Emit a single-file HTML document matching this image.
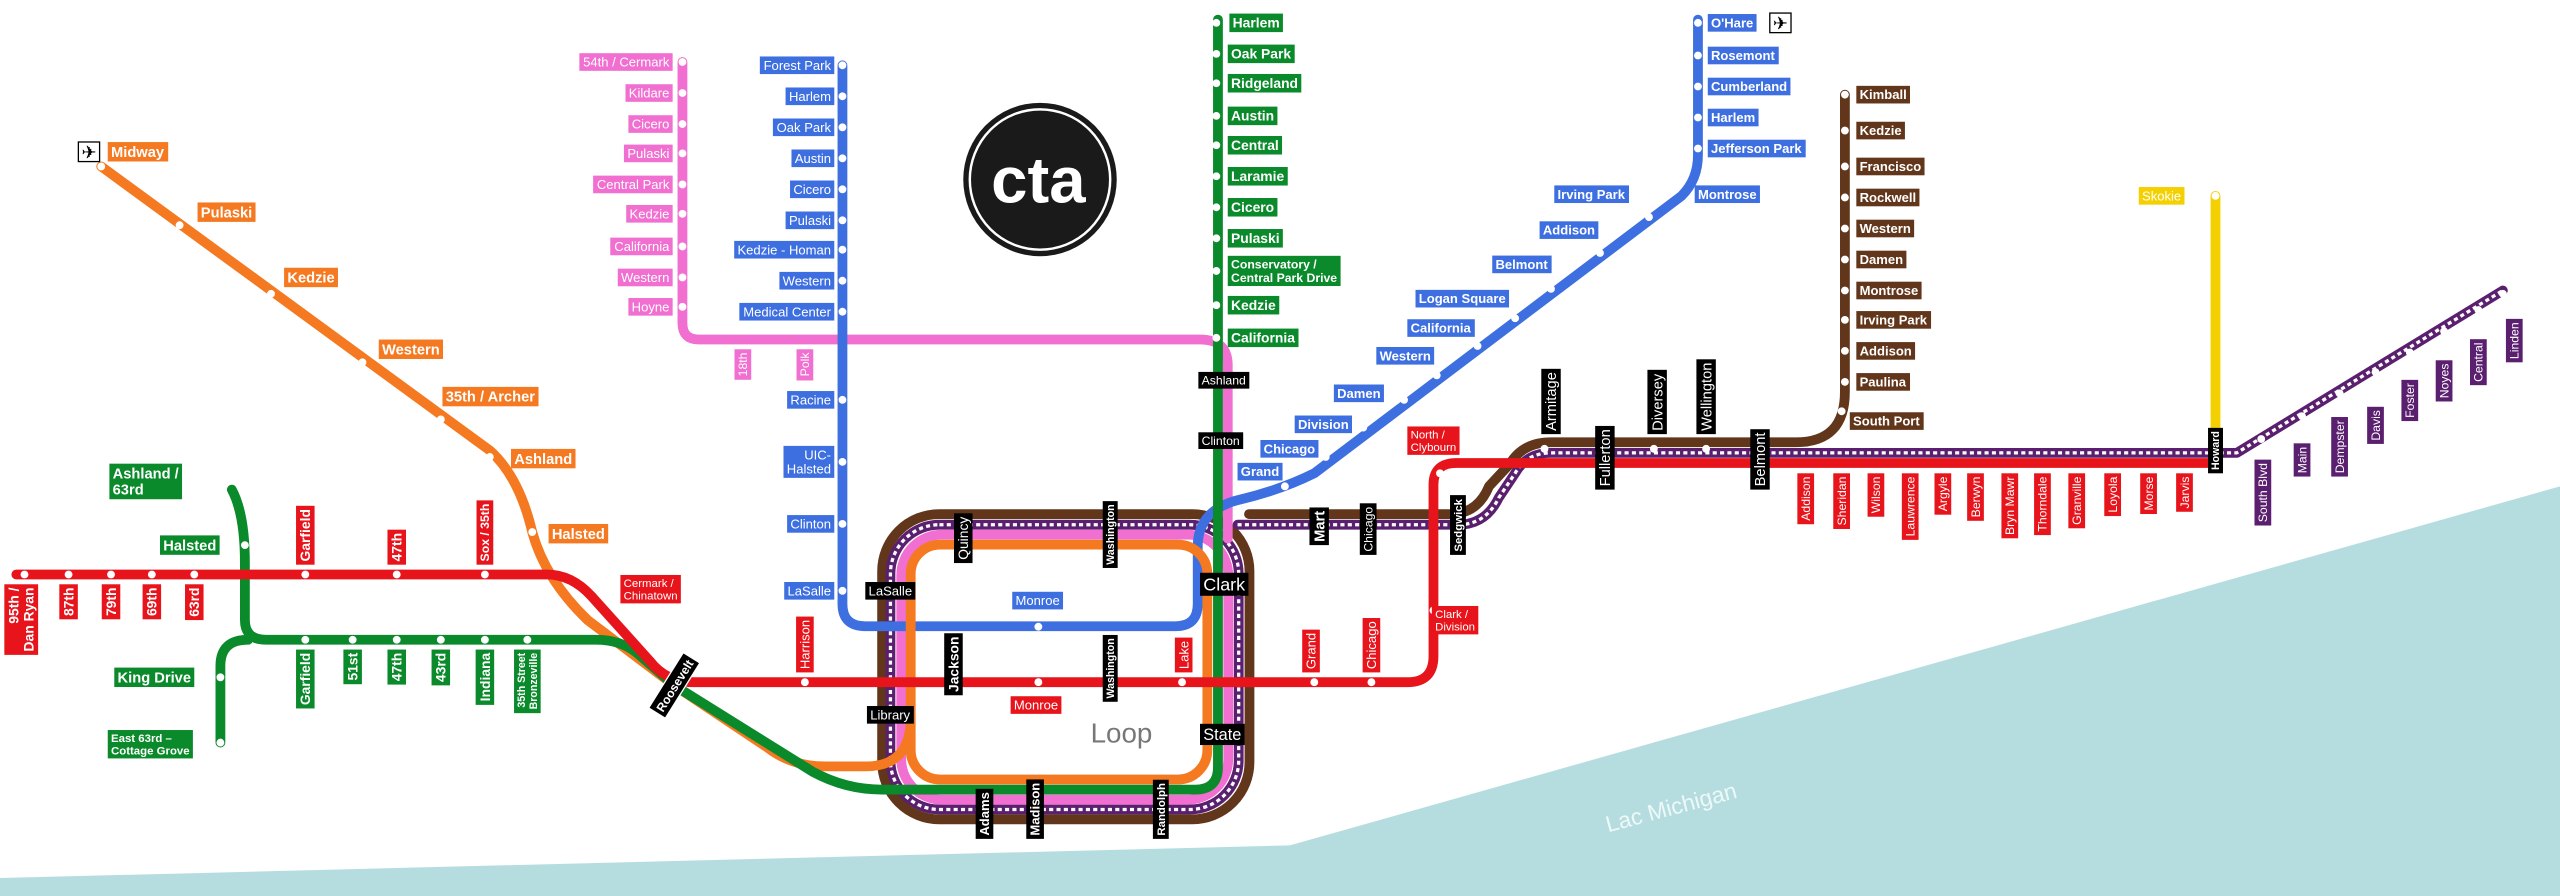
<!DOCTYPE html>
<html><head><meta charset="utf-8"><style>
html,body{margin:0;padding:0;background:#fff;overflow:hidden}
svg{display:block}
text{font-family:"Liberation Sans",sans-serif}
</style></head><body>
<svg id="map" width="2560" height="896" viewBox="0 0 1568 549" preserveAspectRatio="none" xmlns="http://www.w3.org/2000/svg">
<rect x="0" y="0" width="1568" height="549" fill="#ffffff"/>
<polygon points="0,538 790,518 1568,298 1568,549 0,549" fill="#b5dde0"/>
<text x="985" y="510" font-size="14" fill="#eef8f8" transform="rotate(-15 985 510)">Lac Michigan</text>
<g id="lines" fill="none" stroke-width="6" stroke-linecap="round" stroke-linejoin="round">
<rect x="540.3" y="315" width="225" height="187" rx="35" stroke="#62361b"/>
<path d="M765,315 H888 Q905,315 912,298 L925,284 Q933,271 950,271 H1100 Q1130,271 1130,240 V58" stroke="#62361b"/>
<rect x="545.4" y="321.5" width="213.3" height="174.5" rx="30" stroke="#5a1f6e"/>
<path d="M758,321.5 H893 Q910,321.5 918,305 L928,290 Q935,277.5 950,277.5 H1370 L1533,178" stroke="#5a1f6e"/>
<rect x="545.4" y="321.5" width="213.3" height="174.5" rx="30" stroke="#fff" stroke-width="2" stroke-dasharray="2.5 2" stroke-linecap="butt"/>
<path d="M758,321.5 H893 Q910,321.5 918,305 L928,290 Q935,277.5 950,277.5 H1370 L1533,178" stroke="#fff" stroke-width="2" stroke-dasharray="2.5 2" stroke-linecap="butt"/>
<path d="M1357,120 V277" stroke="#f5d000"/>
<path d="M418,38 V198 Q418,208 428,208 H735 Q752,208 752,224 V330" stroke="#f06fd0"/>
<rect x="552" y="327.6" width="200.3" height="162.4" rx="25" stroke="#f06fd0"/>
<path d="M516,40 V370 Q516,383.7 530,383.7 H720 Q733.6,383.7 733.6,370 V335 Q733.6,312 760,306 Q785,300 805,290 L1030,120 Q1040,110 1040,95 V12" stroke="#3d6fe0"/>
<path d="M62,102 L300,276 Q318,292 326,326 Q334,355 360,380 L413,420 L470,458 Q485,469.6 505,469.6 H530 Q557.8,469.6 557.8,440" stroke="#f47920"/>
<rect x="557.8" y="333.7" width="181.7" height="143.9" rx="18" stroke="#f47920"/>
<path d="M746,12 V470 Q746,483.8 732,483.8 H540 Q518,483.8 498,473 L413,420 L390,400 Q380,392 365,392 H163 Q150,392 150,380 V345 Q150,315 142,300" stroke="#0a8a2a"/>
<path d="M135,455 V408 Q135,392 152,392" stroke="#0a8a2a"/>
<path d="M10,352 H335 Q350,352 362,365 L398,405 Q408,418 425,418 H862 Q878,418 878,402 V297 Q878,283.7 892,283.7 H1357" stroke="#e8141c"/>
</g>
<g id="dots"></g>
<g id="labels"></g>
<g>
<circle cx="637" cy="110" r="47" fill="#1a1a1a"/>
<circle cx="637" cy="110" r="43" fill="none" stroke="#fff" stroke-width="1.5"/>
<text x="636" y="124" font-size="40" font-weight="bold" fill="#fff" text-anchor="middle">cta</text>
</g>
<text x="668" y="455" font-size="17" fill="#777">Loop</text>
</svg>
<script>
const NS="http://www.w3.org/2000/svg";
const svg=document.getElementById('map');
const gL=document.getElementById('labels');
const gD=document.getElementById('dots');
const R="#e8141c",G="#0a8a2a",O="#f47920",B="#3d6fe0",P="#f06fd0",BR="#62361b",PU="#5a1f6e",K="#000",Y="#f5d000";
// [text, x, y, bg, mode, fontSize, bold]
const labels=[
["Midway",66,93,O,"h",9,1],["Pulaski",121,130,O,"h",9,1],["Kedzie",174,170,O,"h",9,1],["Western",232,214,O,"h",9,1],["35th / Archer",271,243,O,"h",9,1],["Ashland",313,281,O,"h",9,1],["Halsted",336,327,O,"h",9,1],
["Harlem",753,14,G,"h",8.5,1],["Oak Park",752,33,G,"h",8.5,1],["Ridgeland",752,51,G,"h",8.5,1],["Austin",752,71,G,"h",8.5,1],["Central",752,89,G,"h",8.5,1],["Laramie",752,108,G,"h",8.5,1],["Cicero",752,127,G,"h",8.5,1],["Pulaski",752,146,G,"h",8.5,1],["Conservatory /|Central Park Drive",752,166,G,"h",7.5,1],["Kedzie",752,187,G,"h",8.5,1],["California",752,207,G,"h",8.5,1],
["Ashland",734,233,K,"h",7.5,0],["Clinton",734,270,K,"h",7.5,0],
["Ashland /|63rd",67,295,G,"h",9,1],["Halsted",98,334,G,"h",9,1],["King Drive",70,415,G,"h",9,1],["East 63rd –|Cottage Grove",66,456,G,"h",7,1],
["Garfield",187,398,G,"dn",8.5,1],["51st",216,398,G,"dn",8.5,1],["47th",243,398,G,"dn",8.5,1],["43rd",270,398,G,"dn",8.5,1],["Indiana",297,398,G,"dn",8.5,1],["35th Street|Bronzeville",323,398,G,"dn",6.5,1],
["Garfield",187,346,R,"up",8.5,1],["47th",243,346,R,"up",8.5,1],["Sox / 35th",297,346,R,"up",7.5,1],
["87th",42,358,R,"dn",8.5,1],["79th",68,358,R,"dn",8.5,1],["69th",93,358,R,"dn",8.5,1],["63rd",119,358,R,"dn",8.5,1],["95th /|Dan Ryan",13,358,R,"dn",8.5,1],
["Cermark /|Chinatown",380,361,R,"h",7,0],
["Harrison",493,412,R,"up",8,0],["Lake",725,412,R,"up",8,0],["Grand",803,412,R,"up",8,0],["Chicago",840,412,R,"up",8,0],
["Monroe",619,432,R,"h",8,0],["Clark /|Division",877,380,R,"h",7,0],["North /|Clybourn",862,270,R,"h",7,0],
["Addison",1106,290,R,"dn",7.5,0],["Sheridan",1128,290,R,"dn",7.5,0],["Wilson",1149,290,R,"dn",7.5,0],["Lauwrence",1170,290,R,"dn",7.5,0],["Argyle",1190,290,R,"dn",7.5,0],["Berwyn",1210,290,R,"dn",7.5,0],["Bryn Mawr",1231,290,R,"dn",7.5,0],["Thorndale",1251,290,R,"dn",7.5,0],["Granville",1272,290,R,"dn",7.5,0],["Loyola",1294,290,R,"dn",7.5,0],["Morse",1316,290,R,"dn",7.5,0],["Jarvis",1338,290,R,"dn",7.5,0],
["South Blvd",1386,322,PU,"up",7.5,0],["Main",1410,292,PU,"up",7.5,0],["Dempster",1433,292,PU,"up",7.5,0],["Davis",1455,272,PU,"up",7.5,0],["Foster",1476,258,PU,"up",7.5,0],["Noyes",1497,246,PU,"up",7.5,0],["Central",1518,236,PU,"up",7.5,0],["Linden",1540,222,PU,"up",7.5,0],
["Kimball",1137,58,BR,"h",8,1],["Kedzie",1137,80,BR,"h",8,1],["Francisco",1137,102,BR,"h",8,1],["Rockwell",1137,121,BR,"h",8,1],["Western",1137,140,BR,"h",8,1],["Damen",1137,159,BR,"h",8,1],["Montrose",1137,178,BR,"h",8,1],["Irving Park",1137,196,BR,"h",8,1],["Addison",1137,215,BR,"h",8,1],["Paulina",1137,234,BR,"h",8,1],["South Port",1133,258,BR,"h",8,1],
["Armitage",950,266,K,"up",9,0],["Fullerton",983,300,K,"up",9,0],["Diversey",1015,266,K,"up",9,0],["Wellington",1045,266,K,"up",9,0],["Belmont",1078,300,K,"up",9,0],
["Sedgwick",893,340,K,"up",7,1],["Chicago",838,340,K,"up",7.5,0],["Mart",808,334,K,"up",9,1],
["Quincy",590,345,K,"up",8.5,0],["Washington",680,348,K,"up",6.5,1],["LaSalle",530,362,K,"h",8,0],["Library",531,438,K,"h",8,0],["Jackson",584,426,K,"up",8.5,1],["Washington",680,430,K,"up",6.5,1],
["Clark",735,358,K,"h",11,0],["State",735,450,K,"h",10,0],["Adams",603,514,K,"up",8,1],["Madison",634,514,K,"up",8,1],["Randolph",711,514,K,"up",7,1],["Howard",1357,290,K,"up",6.5,1],
["Forest Park",511,40,B,"hr",8,0],["Harlem",511,59,B,"hr",8,0],["Oak Park",511,78,B,"hr",8,0],["Austin",511,97,B,"hr",8,0],["Cicero",511,116,B,"hr",8,0],["Pulaski",511,135,B,"hr",8,0],["Kedzie - Homan",511,153,B,"hr",8,0],["Western",511,172,B,"hr",8,0],["Medical Center",511,191,B,"hr",8,0],["Racine",511,245,B,"hr",8,0],["UIC-|Halsted",511,283,B,"hr",8,0],["Clinton",511,321,B,"hr",8,0],["LaSalle",511,362,B,"hr",8,0],["Monroe",620,368,B,"h",8,0],
["54th / Cermark",412,38,P,"hr",8,0],["Kildare",412,57,P,"hr",8,0],["Cicero",412,76,P,"hr",8,0],["Pulaski",412,94,P,"hr",8,0],["Central Park",412,113,P,"hr",8,0],["Kedzie",412,131,P,"hr",8,0],["California",412,151,P,"hr",8,0],["Western",412,170,P,"hr",8,0],["Hoyne",412,188,P,"hr",8,0],["18th",455,214,P,"dn",7.5,0],["Polk",493,214,P,"dn",7.5,0],
["O'Hare",1046,14,B,"h",8,1],["Rosemont",1046,34,B,"h",8,1],["Cumberland",1046,53,B,"h",8,1],["Harlem",1046,72,B,"h",8,1],["Jefferson Park",1046,91,B,"h",8,1],["Montrose",1038,119,B,"h",8,1],
["Irving Park",952,119,B,"h",8,1],["Addison",943,141,B,"h",8,1],["Belmont",914,162,B,"h",8,1],["Logan Square",867,183,B,"h",8,1],["California",862,201,B,"h",8,1],["Western",843,218,B,"h",8,1],["Damen",817,241,B,"h",8,1],["Division",793,260,B,"h",8,1],["Chicago",772,275,B,"h",8,1],["Grand",758,289,B,"h",8,1],
["Skokie",1310,120,Y,"h",8,0]
];
const dotX=[15,42,68,93,119,187,243,297,385,493,636,724,805,840,882,1106,1128,1149,1170,1190,1210,1231,1251,1272,1294,1316,1338,
187,216,243,270,297,323,150,135,135,
62,110,166,222,270,300,326,
745,745,745,745,745,745,745,745,745,745,745,
516,516,516,516,516,516,516,516,516,516,516,516,516,
418,418,418,418,418,418,418,418,418,
1130,1130,1130,1130,1130,1130,1130,1130,1130,1130,1128,
946,1013,1045,
1040,1040,1040,1040,1040,1010,980,950,928,905,880,860,835,812,787,
1385,1410,1433,1455,1476,1497,1518,1533,1357,636,878];
const dotY=[352,352,352,352,352,352,352,352,365,418,418,418,418,418,290,290,290,290,290,290,290,290,290,290,290,290,290,
392,392,392,392,392,392,334,415,455,
102,138,180,222,257,280,326,
14,33,51,71,89,108,127,146,166,187,207,
40,59,78,97,116,135,153,172,191,245,283,321,362,
38,57,76,94,113,131,151,170,188,
58,80,102,121,140,159,178,196,215,234,252,
275,275,275,
14,34,53,72,91,133,155,177,195,212,230,245,262,280,298,
269,255,241,228,216,203,190,180,120,384,374];
for(let i=0;i<dotX.length;i++){
  const c=document.createElementNS(NS,'circle');
  
  
  c.setAttribute('cx',dotX[i]);c.setAttribute('cy',dotY[i]);c.setAttribute('r',2.4);
  c.setAttribute('fill','#fff');
  gD.appendChild(c);
}
function slug(s){return s.toLowerCase().replace(/[^a-z0-9]+/g,'-').replace(/^-|-$/g,'');}
labels.forEach(l=>{
  const [t,x,y,bg,mode,fs,bold]=l;
  const g=document.createElementNS(NS,'g');
  
  
  const rect=document.createElementNS(NS,'rect');
  g.appendChild(rect);
  const tx=document.createElementNS(NS,'text');
  tx.setAttribute('font-size',fs);
  if(bold)tx.setAttribute('font-weight','bold');
  tx.setAttribute('fill','#fff');
  const lines=t.split('|');const lh=fs*1.1;
  const anchor=(mode==='hr'||mode==='dn')?'end':'start';
  tx.setAttribute('text-anchor',anchor);
  lines.forEach((s,i)=>{
    const ts=document.createElementNS(NS,'tspan');
    ts.setAttribute('x',anchor==='end'?-2:2);
    ts.setAttribute('y',(-(lines.length-1)*lh/2+i*lh+fs*0.35).toFixed(2));
    ts.textContent=s;tx.appendChild(ts);
  });
  g.appendChild(tx);
  gL.appendChild(g);
  const bb=tx.getBBox();
  const W=bb.width+4,H=lines.length*lh+2;
  rect.setAttribute('x',anchor==='end'?-W:0);
  rect.setAttribute('y',-H/2);
  rect.setAttribute('width',W);rect.setAttribute('height',H);
  rect.setAttribute('fill',bg);
  if(mode==='up'||mode==='dn')g.setAttribute('transform',`translate(${x},${y}) rotate(-90)`);
  else g.setAttribute('transform',`translate(${x},${y})`);
});
(function(){
  const g=document.createElementNS(NS,'g');
  
  
  g.setAttribute('transform','translate(413,420) rotate(-58)');
  g.innerHTML='<rect x="-20" y="-6" width="40" height="12" fill="#000" stroke="#fff" stroke-width="0.8"/><text x="0" y="3" font-size="7.5" font-weight="bold" fill="#fff" text-anchor="middle">Roosevelt</text>';
  svg.appendChild(g);
  [[48,93],[1084,14]].forEach(p=>{
    const a=document.createElementNS(NS,'g');
    
    
    a.innerHTML=`<rect x="${p[0]}" y="${p[1]-6}" width="13" height="12" fill="#fff" stroke="#000" stroke-width="0.8"/><text x="${p[0]+6.5}" y="${p[1]+4}" font-size="11" fill="#000" text-anchor="middle" font-family="DejaVu Sans">✈</text>`;
    svg.appendChild(a);
  });
})();
</script>
</body></html>
